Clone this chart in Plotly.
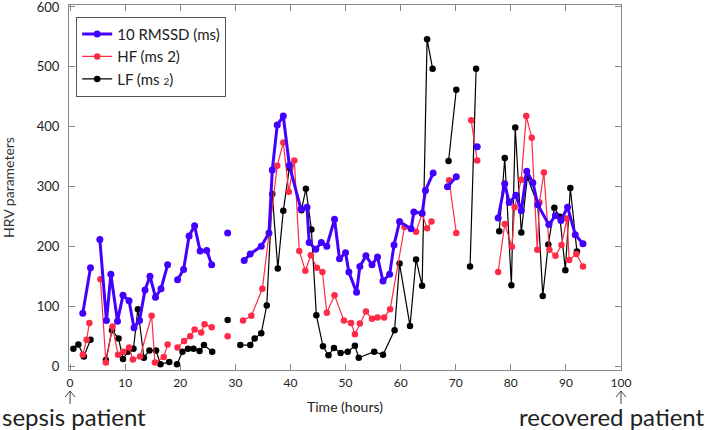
import plotly.graph_objects as go

# ---- data (hours, values); None = gap in the recording ----
rmssd_x = [2.3, 3.7, None, 5.4, 6.6, 7.4, 8.6, 9.6, 10.7, 11.6, 12.6, 13.6, 14.5, 15.5, 16.5, 17.7, None,
           19.5, 20.6, 21.6, 22.6, 23.6, 24.8, 25.7, None, 28.6, None,
           31.6, 32.7, 34.7, 36.1, 36.7, 37.6, 38.7, 39.8, 41.9, 43.0, 43.4, 44.6, 45.6, 46.6, 48.0, 48.9,
           50.0, 50.6, 52.0, 52.6, 53.7, 54.8, 55.8, 56.8, 58.0, 58.8, 59.8, 61.9, 62.4, 63.9, 64.5, 65.9, None,
           68.5, 70.1, None, 73.9, None,
           77.7, 78.9, 79.7, 80.9, 81.9, 82.9, 84.0, 84.9, 86.9, 88.1, 89.1, 90.3, 91.7, 93.1]
rmssd_y = [89, 165, None, 212, 77, 154, 76, 119, 110, 65, 77, 128, 151, 116, 130, 170, None,
           145, 162, 218, 235, 193, 194, 170, None, 223, None,
           177, 188, 201, 223, 328, 403, 418, 336, 263, 266, 207, 196, 207, 201, 246, 180,
           190, 158, 124, 167, 185, 170, 183, 143, 154, 203, 242, 230, 258, 256, 294, 323, None,
           300, 317, None, 367, None,
           248, 305, 274, 286, 260, 326, 307, 270, 237, 252, 244, 266, 220, 205]

hf_x = [2.3, 3.0, 3.5, None, 5.5, 6.5, 7.7, 8.7, 9.7, 10.7, 11.4, 12.7, 14.8, 15.4, 17.0, 17.7, None,
        19.5, 20.7, 21.8, 22.6, 23.8, 24.4, 25.7, None, 28.6, None,
        31.4, 32.9, 34.9, 37.6, 38.7, 39.7, 40.7, 41.6, 42.7, 43.7, 44.8, 45.8, 46.6, 48.0, 49.7,
        51.0, 51.7, 52.6, 53.7, 54.8, 55.8, 57.0, 58.1, 60.7, 62.8, 63.9, 64.8, 65.6, None,
        68.8, 70.1, None, 72.8, 73.9, None,
        77.7, 78.9, 80.2, 80.7, 81.9, 82.8, 83.8, 84.8, 85.2, 86.0, 87.0, 88.1, 89.2, 90.2, 90.6, 91.9, 93.1]
hf_y = [20, 45, 73, None, 146, 7, 67, 20, 25, 32, 12, 17, 85, 7, 16, 37, None,
        32, 43, 51, 62, 57, 71, 66, None, 51, None,
        77, 85, 130, 335, 374, 292, 344, 193, 160, 186, 165, 158, 90, 119, 77,
        73, 54, 72, 92, 80, 82, 82, 96, 233, 225, 255, 231, 242, None,
        311, 223, None, 411, 344, None,
        158, 238, 200, 266, 312, 418, 382, 195, 274, 324, 195, 185, 203, 247, 178, 188, 167]

lf_x = [0.6, 1.5, 2.5, 3.7, None, 6.5, 7.6, 8.8, 9.6, 10.5, 11.5, 12.3, 13.4, 14.4, 15.6, 16.4, 18.0, None,
        19.4, 20.4, 21.4, 22.4, 23.5, 24.3, 25.8, None, 28.6, None,
        30.9, 32.7, 33.5, 34.7, 35.7, 36.7, 37.7, 38.7, 39.8, 42.0, 42.8, 43.8, 44.7, 45.9, 46.9, 47.9,
        49.1, 50.4, 51.7, 52.4, 55.2, 56.8, 58.9, 59.8, 61.7, 62.8, 63.9, 64.8, 65.8, None,
        68.7, 70.1, None, 72.6, 73.7, None,
        77.9, 78.9, 80.1, 80.8, 81.9, 83.0, 84.9, 85.8, 86.8, 87.9, 88.9, 89.9, 90.8, 92.0]
lf_y = [30, 37, 17, 45, None, 11, 61, 47, 13, 25, 30, 96, 15, 27, 27, 4, 8, None,
        4, 25, 30, 30, 26, 36, 25, None, 78, None,
        36, 36, 47, 56, 102, 288, 164, 260, 332, 261, 297, 229, 86, 34, 19, 31,
        23, 25, 35, 15, 25, 20, 61, 172, 68, 179, 135, 546, 497, None,
        343, 462, None, 167, 497, None,
        226, 348, 136, 399, 224, 316, 270, 118, 204, 265, 250, 161, 298, 192]

series_names = ["10 RMSSD (ms)", "HF (ms 2)", "LF (ms <span style='font-size:10px'>2</span>)"]
x_ticks = [0, 10, 20, 30, 40, 50, 60, 70, 80, 90, 100]
y_ticks = [0, 100, 200, 300, 400, 500, 600]
endpoint_hours = [0, 100]
endpoint_labels = ["sepsis patient", "recovered patient"]

FONT = "Lato, 'Open Sans', sans-serif"
BLUE = "#4400ff"
RED = "#ff2a45"
BLACK = "#000000"

fig = go.Figure()
# drawn bottom to top: LF, HF, RMSSD; legend keeps RMSSD, HF, LF order
fig.add_trace(go.Scatter(x=lf_x, y=lf_y, name=series_names[2], mode="lines+markers",
                         line=dict(color=BLACK, width=1.2), marker=dict(color=BLACK, size=6.5),
                         connectgaps=False, legendrank=3))
fig.add_trace(go.Scatter(x=hf_x, y=hf_y, name=series_names[1], mode="lines+markers",
                         line=dict(color=RED, width=1.2), marker=dict(color=RED, size=6.5),
                         connectgaps=False, legendrank=2))
fig.add_trace(go.Scatter(x=rmssd_x, y=rmssd_y, name=series_names[0], mode="lines+markers",
                         line=dict(color=BLUE, width=3), marker=dict(color=BLUE, size=7),
                         connectgaps=False, legendrank=1))

axis_common = dict(showline=True, linecolor="#8a8a8a", linewidth=1, mirror="ticks",
                   ticks="inside", ticklen=6, tickcolor="#8a8a8a", showgrid=False, zeroline=False,
                   automargin=False, ticklabeloverflow="allow")

fig.update_xaxes(range=[-0.2, 100], tickvals=x_ticks, ticklabelstandoff=2,
                 tickfont=dict(family=FONT, size=12, color="#222"),
                 title=dict(text="Time (hours)", font=dict(family=FONT, size=14, color="#222"), standoff=12),
                 **axis_common)
fig.update_yaxes(range=[-5.5, 603.3], tickvals=y_ticks, ticklabelstandoff=6,
                 tickfont=dict(family=FONT, size=13, color="#222"),
                 title=dict(text="HRV parameters", font=dict(family=FONT, size=14, color="#333"), standoff=18),
                 **axis_common)

fig.update_layout(
    width=710, height=430,
    margin=dict(l=69, r=89, t=5, b=60, autoexpand=False),
    plot_bgcolor="white", paper_bgcolor="white",
    font=dict(family=FONT, size=13, color="#222"),
    showlegend=True,
    legend=dict(x=0.013, y=0.968, xanchor="left", yanchor="top",
                bordercolor="#555", borderwidth=1, bgcolor="white",
                font=dict(family=FONT, size=15, color="#222"),
                tracegroupgap=4, traceorder="normal"),
)

PH = 365.0  # plot height in px
PW = 552.0  # plot width in px

# thin open arrows under the 0 and 100 tick labels
for h in endpoint_hours:
    xp = (h + 0.2) / 100.2
    fig.add_shape(type="line", xref="paper", yref="paper", x0=xp, x1=xp,
                  y0=-(404 - 370) / PH, y1=-(391 - 370) / PH,
                  line=dict(color="#444", width=1))
    fig.add_shape(type="path", xref="paper", yref="paper",
                  path=(f"M {xp - 5 / PW},{-(397 - 370) / PH} "
                        f"L {xp},{-(391 - 370) / PH} "
                        f"L {xp + 5 / PW},{-(397 - 370) / PH}"),
                  line=dict(color="#444", width=1))

fig.add_annotation(x=-69 / PW, y=-(416 - 370) / PH, xref="paper", yref="paper", xanchor="left",
                   yanchor="middle", text=endpoint_labels[0], showarrow=False,
                   font=dict(family=FONT, size=24, color="#222"))
fig.add_annotation(x=1 + 86 / PW, y=-(416 - 370) / PH, xref="paper", yref="paper", xanchor="right",
                   yanchor="middle", text=endpoint_labels[1], showarrow=False,
                   font=dict(family=FONT, size=24, color="#222"))

fig.write_html("out.html", config={"displayModeBar": False},
               post_script="document.body.style.margin='0';document.body.style.padding='0';"
                           "document.body.style.overflow='hidden';")
